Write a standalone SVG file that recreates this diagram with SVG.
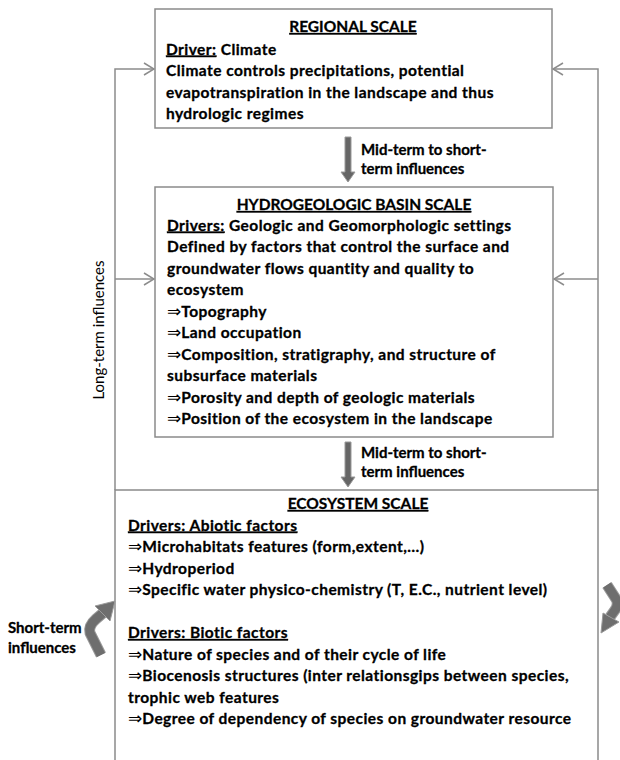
<svg xmlns="http://www.w3.org/2000/svg" width="620" height="760" viewBox="0 0 620 760">
<style>
.t{font-family:Lato,"Liberation Sans",sans-serif;font-weight:bold;font-size:15.5px;letter-spacing:0.45px;fill:#000;stroke:#000;stroke-width:0.3px}
.ttl{text-decoration:underline;text-anchor:middle;font-size:15.5px;letter-spacing:0}
.u{text-decoration:underline}
.ar{font-family:"DejaVu Sans",sans-serif;font-weight:normal;stroke:none;letter-spacing:0;font-size:17px}
.lbl{font-family:Lato,"Liberation Sans",sans-serif;font-weight:bold;font-size:15px;fill:#000;stroke:#000;stroke-width:0.3px}
.rot{font-family:Lato,"Liberation Sans",sans-serif;font-size:15px;fill:#000}
.box{fill:#fff;stroke:#8a8a8a;stroke-width:1.5}
.conn{fill:none;stroke:#8c8c8c;stroke-width:1.5}
.blk{fill:#666;stroke:#9a9a9a;stroke-width:1}
</style>
<defs>
<marker id="chev" viewBox="0 0 12 14" refX="11" refY="7" markerWidth="12" markerHeight="14" markerUnits="userSpaceOnUse" orient="auto">
<path d="M1,1 L11,7 L1,13" fill="none" stroke="#8c8c8c" stroke-width="1.5"/>
</marker>
</defs>
<rect width="620" height="760" fill="#fff"/>

<g id="ecosystem">
<rect class="box" x="115" y="490" width="483" height="300"/>
<text class="t ttl" x="358" y="509">ECOSYSTEM SCALE</text>
<text class="t u" x="128" y="530.5">Drivers: Abiotic factors</text>
<text class="t" x="128" y="552"><tspan class="ar">⇒</tspan>Microhabitats features (form,extent,…)</text>
<text class="t" x="128" y="573.5"><tspan class="ar">⇒</tspan>Hydroperiod</text>
<text class="t" x="128" y="595"><tspan class="ar">⇒</tspan>Specific water physico-chemistry (T, E.C., nutrient level)</text>
<text class="t u" x="128" y="638">Drivers: Biotic factors</text>
<text class="t" x="128" y="659.5"><tspan class="ar">⇒</tspan>Nature of species and of their cycle of life</text>
<text class="t" x="128" y="681"><tspan class="ar">⇒</tspan>Biocenosis structures (inter relationsgips between species,</text>
<text class="t" x="128" y="702.5">trophic web features</text>
<text class="t" x="128" y="724"><tspan class="ar">⇒</tspan>Degree of dependency of species on groundwater resource</text>
</g>

<g id="regional">
<rect class="box" x="155" y="9" width="397" height="119"/>
<text class="t ttl" x="353" y="32">REGIONAL SCALE</text>
<text class="t" x="166" y="54.5"><tspan class="u">Driver:</tspan> Climate</text>
<text class="t" x="166" y="76">Climate controls precipitations, potential</text>
<text class="t" x="166" y="97.5">evapotranspiration in the landscape and thus</text>
<text class="t" x="166" y="119">hydrologic regimes</text>
</g>

<g id="hydrogeologic">
<rect class="box" x="155" y="187" width="398" height="250"/>
<text class="t ttl" x="354" y="210">HYDROGEOLOGIC BASIN SCALE</text>
<text class="t" x="167" y="230.5"><tspan class="u">Drivers:</tspan> Geologic and Geomorphologic settings</text>
<text class="t" x="167" y="252">Defined by factors that control the surface and</text>
<text class="t" x="167" y="273.5">groundwater flows quantity and quality to</text>
<text class="t" x="167" y="295">ecosystem</text>
<text class="t" x="167" y="316.5"><tspan class="ar">⇒</tspan>Topography</text>
<text class="t" x="167" y="338"><tspan class="ar">⇒</tspan>Land occupation</text>
<text class="t" x="167" y="359.5"><tspan class="ar">⇒</tspan>Composition, stratigraphy, and structure of</text>
<text class="t" x="167" y="381">subsurface materials</text>
<text class="t" x="167" y="402.5"><tspan class="ar">⇒</tspan>Porosity and depth of geologic materials</text>
<text class="t" x="167" y="424"><tspan class="ar">⇒</tspan>Position of the ecosystem in the landscape</text>
</g>

<g id="connectors">
<path class="conn" d="M115,490 V69 H154" marker-end="url(#chev)"/>
<path class="conn" d="M115,279 H154" marker-end="url(#chev)"/>
<path class="conn" d="M598,490 V69 H553" marker-end="url(#chev)"/>
<path class="conn" d="M598,279 H554" marker-end="url(#chev)"/>
<polygon class="blk" points="345,137 351,137 351,172 355,172 348,182 341,172 345,172"/>
<polygon class="blk" points="345,442 351,442 351,477 355,477 348,487 341,477 345,477"/>
<g id="short-left">
<path d="M101,655 L90,633 Q88,626 96,619 L103,613" fill="none" stroke="#9a9a9a" stroke-width="11" stroke-linejoin="round"/>
<path d="M101,655 L90,633 Q88,626 96,619 L103,613" fill="none" stroke="#6e6e6e" stroke-width="9" stroke-linejoin="round"/>
<polygon points="115,601 110,621 95,606" fill="#6e6e6e" stroke="#9a9a9a" stroke-width="1"/>
</g>
<g id="short-right">
<path d="M607,585 L616,599 Q619,604 615,610 L610,617" fill="none" stroke="#9a9a9a" stroke-width="11" stroke-linejoin="round"/>
<path d="M607,585 L616,599 Q619,604 615,610 L610,617" fill="none" stroke="#6e6e6e" stroke-width="9" stroke-linejoin="round"/>
<polygon points="601,633 603,613 619,622" fill="#6e6e6e" stroke="#9a9a9a" stroke-width="1"/>
</g>
</g>

<g id="labels">
<text class="lbl" x="361" y="155">Mid-term to short-</text>
<text class="lbl" x="361" y="174">term influences</text>
<text class="lbl" x="361" y="458">Mid-term to short-</text>
<text class="lbl" x="361" y="477">term influences</text>
<text class="rot" transform="translate(104,330) rotate(-90)" text-anchor="middle">Long-term influences</text>
<text class="lbl" x="8" y="633">Short-term</text>
<text class="lbl" x="8" y="653">influences</text>
</g>
</svg>
